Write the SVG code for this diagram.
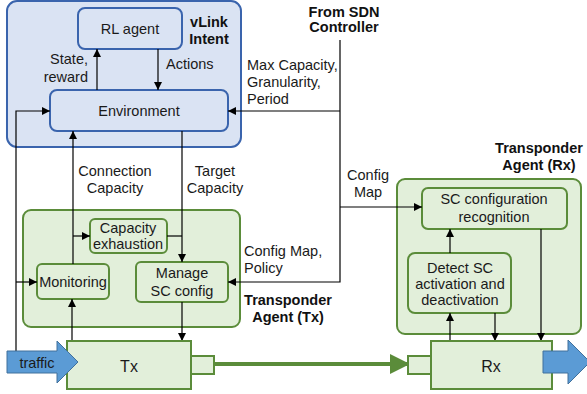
<svg xmlns="http://www.w3.org/2000/svg" width="587" height="394" viewBox="0 0 587 394">
  <style>
    .t { font-family: "Liberation Sans", Arial, sans-serif; font-size: 14.5px; fill: #1a1a1a; }
    .b { font-family: "Liberation Sans", Arial, sans-serif; font-size: 14.5px; font-weight: bold; fill: #111; }
    .m { text-anchor: middle; }
    .e { text-anchor: end; }
    .blueGrp { fill: #dae3f3; stroke: #3a64ad; stroke-width: 2; }
    .blueBox { fill: #dae3f3; stroke: #3a64ad; stroke-width: 2; }
    .greenGrp { fill: #e2efda; stroke: #5b8c3a; stroke-width: 2; }
    .greenBox { fill: #e2efda; stroke: #5b8c3a; stroke-width: 2; }
    .conn { fill: none; stroke: #000; stroke-width: 1.2; }
    .flow { fill: #5b9bd5; stroke: #41719c; stroke-width: 1; }
  </style>
  <defs>
    <marker id="arr" viewBox="0 0 10 10" refX="10" refY="5" markerWidth="8" markerHeight="8" markerUnits="userSpaceOnUse" orient="auto">
      <path d="M0,0 L10,5 L0,10 z" fill="#000"/>
    </marker>
    <marker id="garr" viewBox="0 0 10 10" refX="9" refY="5" markerWidth="5" markerHeight="5" orient="auto">
      <path d="M0,0 L10,5 L0,10 z" fill="#5b8c3a"/>
    </marker>
  </defs>

  <!-- vLink Intent group -->
  <g id="vlink-intent">
    <rect class="blueGrp" x="7" y="1" width="234" height="146" rx="10"/>
    <text class="b m" x="209" y="27">vLink</text>
    <text class="b m" x="209" y="44">Intent</text>
  </g>
  <g id="rl-agent">
    <rect class="blueBox" x="78" y="8" width="104" height="41" rx="7"/>
    <text class="t m" x="130" y="34">RL agent</text>
  </g>
  <g id="environment">
    <rect class="blueBox" x="50" y="90" width="178" height="41" rx="7"/>
    <text class="t m" x="139" y="116">Environment</text>
  </g>

  <!-- Transponder Agent (Tx) -->
  <g id="tx-agent">
    <rect class="greenGrp" x="23" y="210" width="217" height="117" rx="8"/>
    <text class="b m" x="288" y="305">Transponder</text>
    <text class="b m" x="288" y="322">Agent (Tx)</text>
  </g>
  <g id="capacity-exhaustion">
    <rect class="greenBox" x="90" y="219" width="77" height="34" rx="5"/>
    <text class="t m" x="128" y="233">Capacity</text>
    <text class="t m" x="128" y="249">exhaustion</text>
  </g>
  <g id="monitoring">
    <rect class="greenBox" x="37" y="264" width="72" height="35" rx="5"/>
    <text class="t m" x="73" y="287">Monitoring</text>
  </g>
  <g id="manage-sc-config">
    <rect class="greenBox" x="136" y="262" width="92" height="40" rx="5"/>
    <text class="t m" x="182" y="278">Manage</text>
    <text class="t m" x="182" y="296">SC config</text>
  </g>

  <!-- Transponder Agent (Rx) -->
  <g id="rx-agent">
    <rect class="greenGrp" x="397" y="179" width="184" height="155" rx="8"/>
    <text class="b m" x="539" y="153">Transponder</text>
    <text class="b m" x="539" y="170">Agent (Rx)</text>
  </g>
  <g id="sc-config-recognition">
    <rect class="greenBox" x="422" y="188" width="145" height="41" rx="6"/>
    <text class="t m" x="494" y="204">SC configuration</text>
    <text class="t m" x="494" y="222">recognition</text>
  </g>
  <g id="detect-sc">
    <rect class="greenBox" x="408" y="253" width="103" height="60" rx="7"/>
    <text class="t m" x="460" y="273">Detect SC</text>
    <text class="t m" x="460" y="289">activation and</text>
    <text class="t m" x="460" y="305">deactivation</text>
  </g>

  <!-- Connectors -->
  <g id="connectors">
    <path class="conn" d="M97,90 V49" marker-end="url(#arr)"/>
    <path class="conn" d="M158,49 V90" marker-end="url(#arr)"/>
    <path class="conn" d="M16,351 V111 H50" marker-end="url(#arr)"/>
    <path class="conn" d="M16,282 H37" marker-end="url(#arr)"/>
    <path class="conn" d="M340,40 V282 H228" marker-end="url(#arr)"/>
    <path class="conn" d="M340,111 H228" marker-end="url(#arr)"/>
    <path class="conn" d="M340,207 H422" marker-end="url(#arr)"/>
    <path class="conn" d="M73,264 V131" marker-end="url(#arr)"/>
    <path class="conn" d="M73,236 H90" marker-end="url(#arr)"/>
    <path class="conn" d="M182,131 V262" marker-end="url(#arr)"/>
    <path class="conn" d="M167,236 H182"/>
    <path class="conn" d="M72,341 V299" marker-end="url(#arr)"/>
    <path class="conn" d="M182,302 V341" marker-end="url(#arr)"/>
    <path class="conn" d="M450,341 V313" marker-end="url(#arr)"/>
    <path class="conn" d="M450,253 V229" marker-end="url(#arr)"/>
    <path class="conn" d="M495,313 V341" marker-end="url(#arr)"/>
    <path class="conn" d="M541,229 V341" marker-end="url(#arr)"/>
    <path d="M214,364 H408" fill="none" stroke="#5b8c3a" stroke-width="4" marker-end="url(#garr)"/>
  </g>

  <!-- Connector labels -->
  <g id="labels">
    <text class="b m" x="344" y="17">From SDN</text>
    <text class="b m" x="344" y="32">Controller</text>
    <text class="t" x="247" y="70">Max Capacity,</text>
    <text class="t" x="247" y="87">Granularity,</text>
    <text class="t" x="247" y="104">Period</text>
    <text class="t e" x="88" y="64">State,</text>
    <text class="t e" x="88" y="82">reward</text>
    <text class="t" x="166" y="69">Actions</text>
    <text class="t m" x="115" y="176">Connection</text>
    <text class="t m" x="115" y="193">Capacity</text>
    <text class="t m" x="215" y="176">Target</text>
    <text class="t m" x="215" y="193">Capacity</text>
    <text class="t m" x="368" y="180">Config</text>
    <text class="t m" x="368" y="197">Map</text>
    <text class="t" x="244" y="256">Config Map,</text>
    <text class="t" x="244" y="273">Policy</text>
  </g>

  <!-- Transmitter -->
  <g id="tx">
    <rect class="greenBox" x="67" y="341" width="124" height="48"/>
    <rect class="greenBox" x="191" y="356" width="23" height="18"/>
    <text class="t m" x="129" y="372" style="font-size:16px">Tx</text>
  </g>
  <!-- Receiver -->
  <g id="rx">
    <rect class="greenBox" x="431" y="341" width="121" height="48"/>
    <rect class="greenBox" x="408" y="356" width="23" height="18"/>
    <text class="t m" x="491" y="372" style="font-size:16px">Rx</text>
  </g>

  <!-- Traffic in / out -->
  <g id="traffic-in">
    <polygon class="flow" points="7,351 57,351 57,341 78,362 57,383 57,373 7,373"/>
    <text class="t m" x="37" y="368">traffic</text>
  </g>
  <g id="traffic-out">
    <polygon class="flow" points="543,351 568,351 568,340 590,362 568,384 568,373 543,373"/>
  </g>
</svg>
